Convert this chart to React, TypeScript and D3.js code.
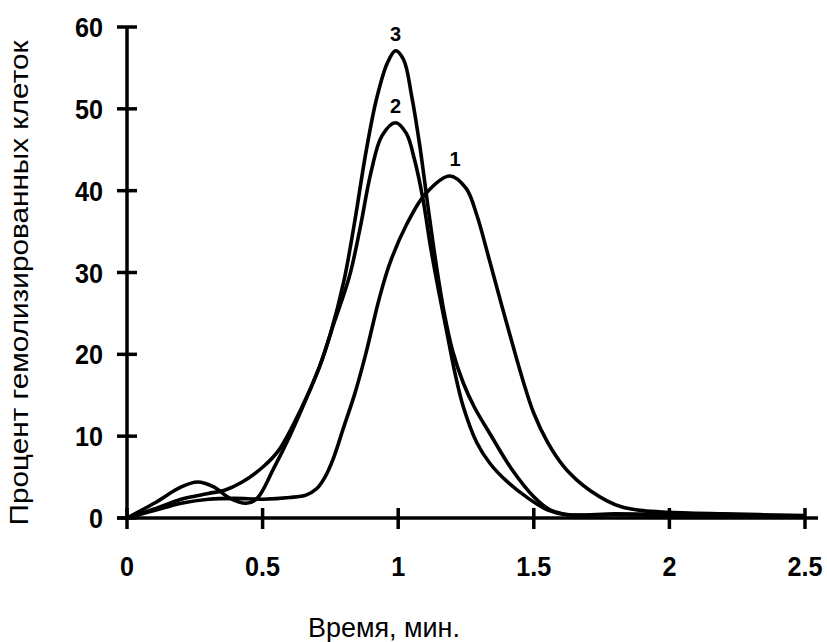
import React from "react";
import * as d3 from "d3";

const xTicks = [0, 0.5, 1, 1.5, 2, 2.5];
const xTickLabels = ["0", "0.5", "1", "1.5", "2", "2.5"];
const yTicks = [0, 10, 20, 30, 40, 50, 60];
const yTickLabels = ["0", "10", "20", "30", "40", "50", "60"];

const curve1: [number, number][] = [
  [0, 0], [0.1, 0.9], [0.2, 1.8], [0.3, 2.3], [0.4, 2.4], [0.5, 2.3], [0.6, 2.5], [0.66, 2.8],
  [0.7, 3.6], [0.73, 5.0], [0.76, 7.2], [0.8, 11.2], [0.84, 15.2], [0.88, 20], [0.93, 26.8],
  [0.97, 31.2], [1.03, 35.8], [1.1, 39.6], [1.19, 41.8], [1.25, 40.3], [1.29, 37], [1.33, 32.3],
  [1.37, 27.4], [1.41, 22.6], [1.46, 16.8], [1.5, 12.8], [1.55, 9.3], [1.61, 6.3],
  [1.66, 4.6], [1.71, 3.3], [1.77, 2.1], [1.82, 1.4], [1.9, 0.9], [2.0, 0.7], [2.2, 0.5], [2.5, 0.3],
];
const curve2: [number, number][] = [
  [0, 0], [0.1, 1.8], [0.2, 3.8], [0.26, 4.4], [0.32, 3.8], [0.38, 2.4], [0.44, 1.8],
  [0.48, 2.4], [0.54, 6], [0.6, 10], [0.66, 14.5], [0.71, 18.5], [0.76, 23.5], [0.82, 29.5],
  [0.86, 35.5], [0.9, 42.3], [0.94, 46.7], [0.99, 48.3], [1.03, 47], [1.06, 43.8], [1.09, 39.2],
  [1.12, 33], [1.15, 27.6], [1.18, 22.6], [1.21, 17.6], [1.24, 13.6], [1.29, 9.2], [1.34, 6.6],
  [1.4, 4.5], [1.48, 2.4], [1.55, 1.0], [1.62, 0.4], [1.8, 0.4], [2.0, 0.3], [2.5, 0.2],
];
const curve3: [number, number][] = [
  [0, 0], [0.1, 1.1], [0.2, 2.3], [0.3, 3.0], [0.36, 3.4], [0.42, 4.3], [0.5, 6.2],
  [0.56, 8.3], [0.64, 13.2], [0.71, 18.5], [0.75, 22.5], [0.8, 29], [0.84, 36.3],
  [0.88, 44.5], [0.92, 51.2], [0.96, 55.6], [0.99, 57.1], [1.02, 56], [1.05, 51.5],
  [1.08, 45.4], [1.11, 38], [1.14, 31], [1.17, 25], [1.2, 20.5], [1.24, 16.5], [1.28, 13.6],
  [1.34, 10.2], [1.42, 5.9], [1.5, 2.6], [1.56, 1.0], [1.63, 0.4], [1.8, 0.5], [2.0, 0.4], [2.5, 0.2],
];
const series = [curve1, curve2, curve3];
const seriesLabels = ["1", "2", "3"];
const labelAnchors: [number, number][] = [[1.21, 41.8], [0.99, 48.3], [0.99, 57.1]];

const xTitle = "Время, мин.";
const yTitle = "Процент гемолизированных клеток";

export default function App() {
  const x = d3.scaleLinear().domain([0, 2.5]).range([127, 805]);
  const y = d3.scaleLinear().domain([0, 60]).range([518, 27]);
  const line = d3
    .line<[number, number]>()
    .x((d) => x(d[0]))
    .y((d) => y(d[1]))
    .curve(d3.curveCatmullRom.alpha(0.5));
  const font = "'Liberation Sans', Arial, Helvetica, sans-serif";
  return (
    <svg
      width={827}
      height={642}
      style={{ position: "absolute", left: 0, top: 0, background: "#fff" }}
      fontFamily={font}
    >
      <rect width={827} height={642} fill="#fff" />
      <line x1={x(0)} x2={x(0)} y1={y(60)} y2={y(0)} stroke="#000" strokeWidth={3.5} />
      <line x1={x(0) - 10} x2={818} y1={y(0)} y2={y(0)} stroke="#000" strokeWidth={3.5} />
      {yTicks.map((t, i) => (
        <g key={"yt" + i}>
          <line x1={x(0) - 10} x2={x(0) + 10} y1={y(t)} y2={y(t)} stroke="#000" strokeWidth={3.5} />
          <g transform={`translate(103,${y(t)}) scale(0.9,1)`}>
            <text textAnchor="end" dy="0.36em" fontSize={28} fontWeight="bold">
              {yTickLabels[i]}
            </text>
          </g>
        </g>
      ))}
      {xTicks.map((t, i) => (
        <g key={"xt" + i}>
          <line x1={x(t)} x2={x(t)} y1={y(0) - 10} y2={y(0) + 11} stroke="#000" strokeWidth={3.5} />
          <g transform={`translate(${x(t)},576) scale(0.9,1)`}>
            <text textAnchor="middle" fontSize={28} fontWeight="bold">
              {xTickLabels[i]}
            </text>
          </g>
        </g>
      ))}
      {series.map((s, i) => (
        <path key={"s" + i} d={line(s) || ""} fill="none" stroke="#000" strokeWidth={3.6} strokeLinejoin="round" />
      ))}
      {labelAnchors.map((a, i) => (
        <text
          key={"l" + i}
          x={x(a[0])}
          y={y(a[1]) - 10}
          textAnchor="middle"
          fontSize={20}
          fontWeight="bold"
        >
          {seriesLabels[i]}
        </text>
      ))}
      <text x={384} y={637} textAnchor="middle" fontSize={27} textLength={152} lengthAdjust="spacingAndGlyphs">
        {xTitle}
      </text>
      <text
        transform={`translate(28,283) rotate(-90)`}
        textAnchor="middle"
        fontSize={25}
        textLength={485}
        lengthAdjust="spacingAndGlyphs"
      >
        {yTitle}
      </text>
    </svg>
  );
}
